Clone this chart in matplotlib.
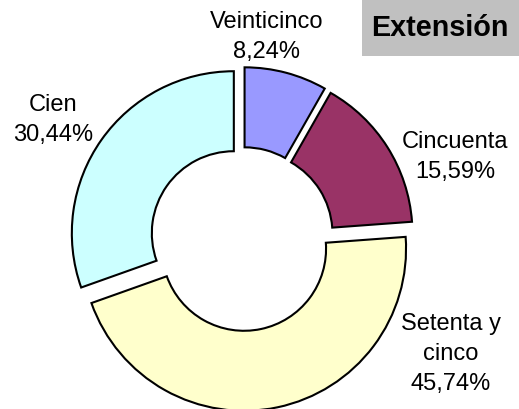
import numpy as np
import matplotlib
matplotlib.use("Agg")
import matplotlib.pyplot as plt
from matplotlib.patches import Rectangle

categorias = ["Veinticinco", "Cincuenta", "Setenta y\ncinco", "Cien"]
porcentajes = [8.24, 15.59, 45.74, 30.44]
colores = ["#9999FF", "#993366", "#FFFFCC", "#CCFFFF"]
titulo = "Extensión"

W, H = 519, 409
fig = plt.figure(figsize=(W / 100, H / 100), dpi=100)
ax = fig.add_axes([0, 0, 1, 1])
ax.set_xlim(0, W)
ax.set_ylim(0, H)
ax.set_aspect("equal")
ax.axis("off")

R = 162
cx, cy = 242, H - 239
ax.pie(porcentajes, colors=colores, startangle=90, counterclock=False,
       center=(cx, cy), radius=R, explode=[10] * 4,
       wedgeprops=dict(width=80, edgecolor="black", linewidth=1.5))
ax.set_xlim(0, W)
ax.set_ylim(0, H)

# posiciones de las etiquetas (pixeles, desde arriba)
pos = [(267, 37), (455, 157), (451, 354), (53, 120)]
for cat, p, (x, y) in zip(categorias, porcentajes, pos):
    txt = cat + "\n" + ("%.2f%%" % p).replace(".", ",")
    ax.text(x, H - y, txt, ha="center", va="center", fontsize=17,
            family="Liberation Sans", linespacing=1.45)

ax.add_patch(Rectangle((362, H - 56), W - 362, 56, facecolor="#C0C0C0",
                       edgecolor="none", zorder=5))
ax.text(440, H - 28, titulo, ha="center", va="center", fontsize=20.7,
        fontweight="bold", family="Liberation Sans", zorder=6)

plt.savefig("out.png", dpi=100)
